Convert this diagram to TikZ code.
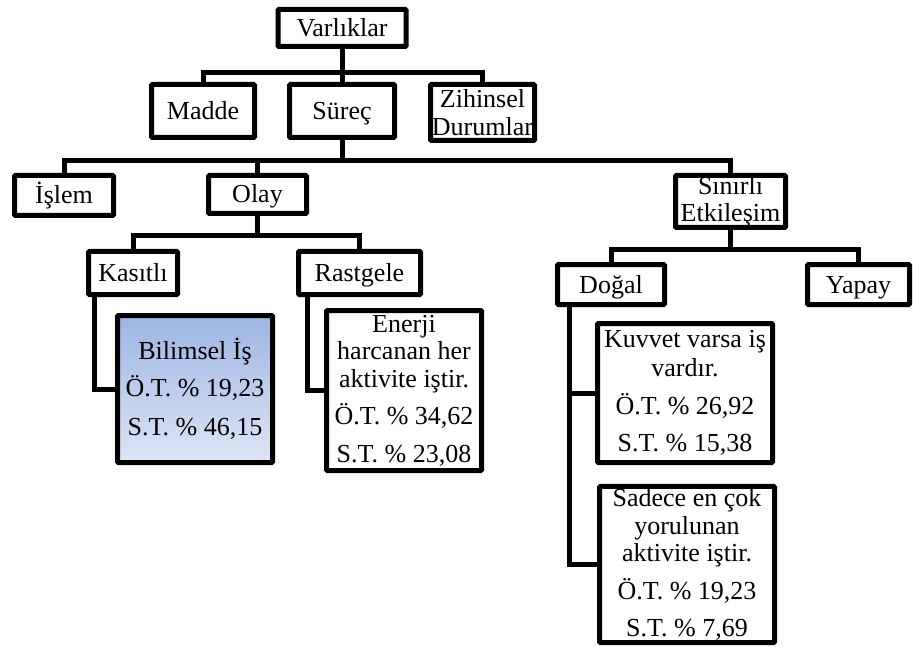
\documentclass[tikz,border=0pt]{standalone}
\usepackage{fontspec}
\setmainfont{Liberation Serif}
\usetikzlibrary{positioning}
\definecolor{kutumavi}{RGB}{157,181,227}
\definecolor{kutuacik}{RGB}{222,230,245}

\begin{document}
\begin{tikzpicture}[node distance=83pt]
            \tikzstyle{block} = [rectangle, draw, line width=5pt, rounded corners=1pt, inner sep=2pt, align=center, font=\fontsize{26}{27.5}\selectfont]
            \tikzstyle{single} = [block, text height=20pt, text depth=3pt]
            \tikzstyle{line} = [draw, line width=5pt]
            \useasboundingbox (0,0) rectangle (913pt,-647pt);

            % 定义节点
            \node[single, minimum width=128pt, minimum height=37pt] (root) at (342pt,-28pt) {Varlıklar};
            \node[single, below of=root, xshift=-139pt, minimum width=103pt, minimum height=53pt] (madde) {Madde};
            \node[single, below of=root, minimum width=105pt, minimum height=53pt] (surec) {Süreç};
            \node[block, below of=root, xshift=140.5pt, yshift=-1.5pt, minimum width=104pt, minimum height=56pt, inner sep=0pt] (zihinsel) {Zihinsel\\Durumlar};

            \node[single, below of=surec, xshift=-278pt, yshift=-1.5pt, minimum width=99pt, minimum height=40pt] (islem) {İşlem};
            \node[single, below of=surec, xshift=-84.5pt, yshift=-0.5pt, minimum width=98pt, minimum height=38pt] (olay) {Olay};
            \node[block, below of=surec, xshift=388.5pt, yshift=-7.5pt, minimum width=110pt, minimum height=52pt, inner sep=0pt] (sinirli) {Sınırlı\\Etkileşim};

            \node[single, below of=olay, xshift=-124.5pt, yshift=4.5pt, minimum width=89pt, minimum height=43pt] (kasitli) {Kasıtlı};
            \node[single, below of=olay, xshift=102pt, yshift=4.5pt, minimum width=122pt, minimum height=43pt] (rastgele) {Rastgele};
            \node[single, below of=sinirli, xshift=-119.5pt, minimum width=107pt, minimum height=40pt] (dogal) {Doğal};
            \node[single, below of=sinirli, xshift=128pt, minimum width=102pt, minimum height=40pt] (yapay) {Yapay};

            \node[block, below of=kasitli, xshift=62pt, yshift=-33pt, minimum width=155pt, minimum height=147pt, top color=kutumavi, bottom color=kutuacik] (bilimsel) {Bilimsel İş\\[9.5pt]Ö.T. \% 19,23\\[12pt]S.T. \% 46,15};
            \node[block, below of=rastgele, xshift=44.5pt, yshift=-34.5pt, minimum width=155pt, minimum height=160pt] (enerji) {Enerji\\harcanan her\\aktivite iştir.\\[10pt]Ö.T. \% 34,62\\[10pt]S.T. \% 23,08};
            \node[block, below of=dogal, xshift=74pt, yshift=-25.5pt, minimum width=175pt, minimum height=139pt] (kuvvet) {Kuvvet varsa iş\\[2pt]vardır.\\[10pt]Ö.T. \% 26,92\\[10pt]S.T. \% 15,38};
            \node[block, below of=kuvvet, xshift=2pt, yshift=-88.5pt, minimum width=175pt, minimum height=156pt] (sadece) {Sadece en çok\\yorulunan\\aktivite iştir.\\[10pt]Ö.T. \% 19,23\\[10pt]S.T. \% 7,69};

            % 添加连线
            \foreach \c in {madde, surec, zihinsel}
                \path [line] (root.south) -- ++(0,-23.5pt) -| (\c.north);
            \foreach \c in {islem, olay, sinirli}
                \path [line] (surec.south) -- ++(0,-20.5pt) -| (\c.north);
            \foreach \c in {kasitli, rastgele}
                \path [line] (olay.south) -- ++(0,-19.5pt) -| (\c.north);
            \foreach \c in {dogal, yapay}
                \path [line] (sinirli.south) -- ++(0,-19.5pt) -| (\c.north);
            \path [line] ([xshift=8.5pt]kasitli.south west) |- (bilimsel.west);
            \path [line] ([xshift=11.5pt]rastgele.south west) |- (enerji.west);
            \path [line] ([xshift=14.5pt]dogal.south west) |- (kuvvet.west);
            \path [line] ([xshift=14.5pt]dogal.south west) |- (sadece.west);
        \end{tikzpicture}
\end{document}
